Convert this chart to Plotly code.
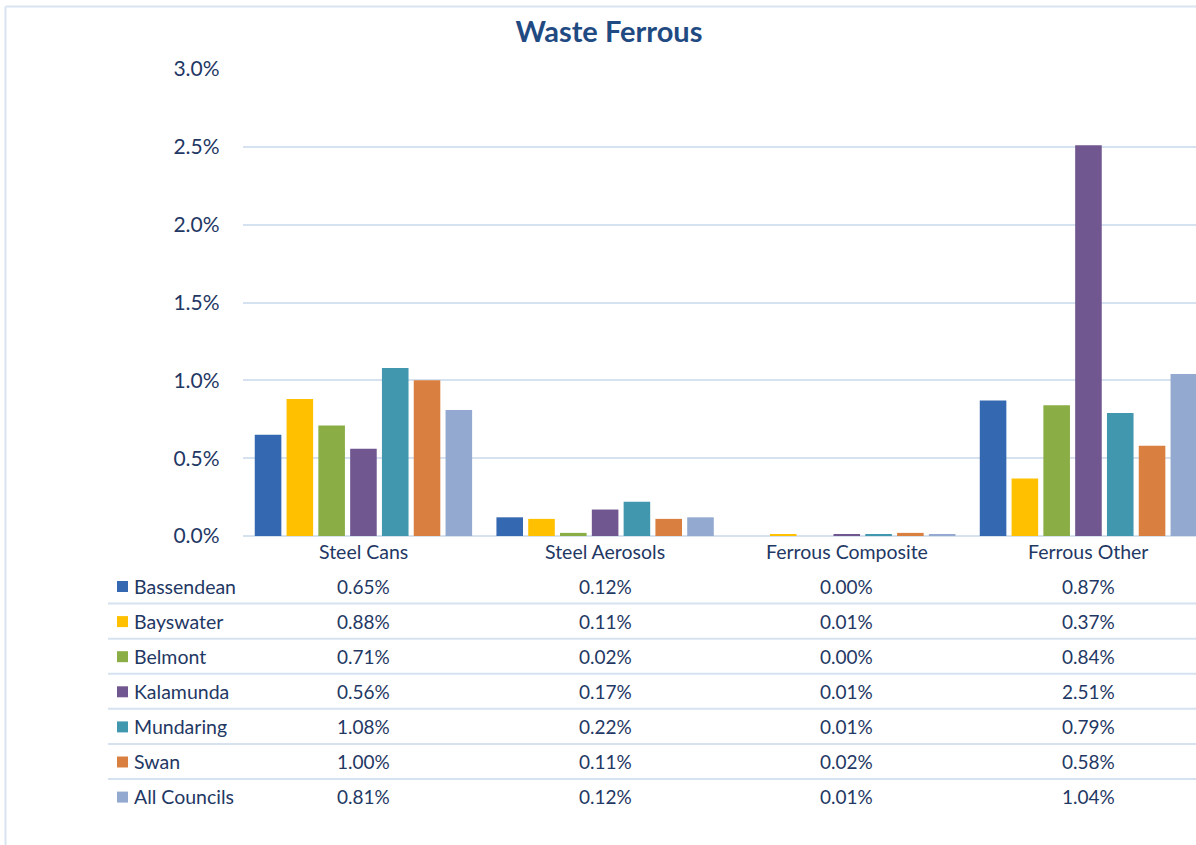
import plotly.graph_objects as go

categories = ["Steel Cans", "Steel Aerosols", "Ferrous Composite", "Ferrous Other"]
councils = ["Bassendean", "Bayswater", "Belmont", "Kalamunda", "Mundaring", "Swan", "All Councils"]
bassendean = [0.65, 0.12, 0.00, 0.87]
bayswater = [0.88, 0.11, 0.01, 0.37]
belmont = [0.71, 0.02, 0.00, 0.84]
kalamunda = [0.56, 0.17, 0.01, 2.51]
mundaring = [1.08, 0.22, 0.01, 0.79]
swan = [1.00, 0.11, 0.02, 0.58]
all_councils = [0.81, 0.12, 0.01, 1.04]
series = [bassendean, bayswater, belmont, kalamunda, mundaring, swan, all_councils]
colors = ["#3468b0", "#ffc000", "#8aae45", "#70578f", "#4097ae", "#d98040", "#93a9cf"]
y_ticks = [0.0, 0.5, 1.0, 1.5, 2.0, 2.5, 3.0]

W, H = 1196, 845
TEXT = "#1f3864"
GRID = "#d6e2f0"
FONT = "Lato"

fig = go.Figure()
for name, vals, col in zip(councils, series, colors):
    fig.add_trace(go.Bar(x=list(range(len(categories))), y=vals, name=name,
                         marker=dict(color=col, line=dict(width=0)),
                         showlegend=False, hoverinfo="y+name"))

def px_x(p):
    return p / W

def px_y(p):
    return 1 - p / H

x0_plot = 242.6
y_zero, y_top = 536, 69
fig.update_layout(
    template="none",
    width=W, height=H,
    margin=dict(l=0, r=0, t=0, b=0, pad=0, autoexpand=False),
    paper_bgcolor="white", plot_bgcolor="white",
    barmode="group", bargap=0.079, bargroupgap=0.164,
    font=dict(family=FONT, color=TEXT),
    title=dict(text="<b>Waste Ferrous</b>", x=609 / W, xanchor="center",
               y=px_y(32), yanchor="middle", automargin=False,
               font=dict(family=FONT, size=29, color="#1f4a82")),
    xaxis=dict(domain=[px_x(x0_plot), 1], range=[-0.5, 3.445], automargin=False,
               showticklabels=False, ticks="", showgrid=False, zeroline=False,
               showline=False, fixedrange=True),
    yaxis=dict(domain=[px_y(y_zero), px_y(y_top)], range=[0, 3.0], automargin=False,
               tickvals=y_ticks, ticktext=[f"{v:.1f}%" for v in y_ticks],
               tickfont=dict(family=FONT, size=21, color=TEXT),
               showgrid=True, gridcolor=GRID, gridwidth=1.5,
               zeroline=True, zerolinecolor=GRID, zerolinewidth=2,
               ticks="", ticklabelstandoff=22, showline=False, fixedrange=True),
)

shapes = []
annotations = []
# chart frame
shapes.append(dict(type="line", xref="paper", yref="paper", x0=px_x(5.5), x1=px_x(5.5),
                   y0=px_y(6.5), y1=0, line=dict(color="#d9e4f2", width=2)))
shapes.append(dict(type="line", xref="paper", yref="paper", x0=px_x(5.5), x1=1,
                   y0=px_y(6.5), y1=px_y(6.5), line=dict(color="#d9e4f2", width=2)))

# category labels
for i, c in enumerate(categories):
    annotations.append(dict(x=i, y=px_y(551), xref="x", yref="paper", text=c,
                            showarrow=False, xanchor="center", yanchor="middle",
                            font=dict(family=FONT, size=19.5, color=TEXT)))

row0, row_h = 586, 35.1
for r, (name, vals, col) in enumerate(zip(councils, series, colors)):
    yc = row0 + r * row_h
    shapes.append(dict(type="rect", xref="paper", yref="paper",
                       x0=px_x(117), x1=px_x(128), y0=px_y(yc - 5), y1=px_y(yc + 6),
                       fillcolor=col, line=dict(width=0)))
    annotations.append(dict(x=px_x(132), y=px_y(yc), xref="paper", yref="paper",
                            text=name, showarrow=False, xanchor="left", yanchor="middle",
                            font=dict(family=FONT, size=19.5, color=TEXT)))
    for i, v in enumerate(vals):
        annotations.append(dict(x=i, y=px_y(yc), xref="x", yref="paper",
                                text=f"{v:.2f}%", showarrow=False, xanchor="center",
                                yanchor="middle", font=dict(family=FONT, size=19, color=TEXT)))
    if r < len(councils) - 1:
        ly = yc + row_h / 2
        shapes.append(dict(type="line", xref="paper", yref="paper", x0=px_x(108), x1=1,
                           y0=px_y(ly), y1=px_y(ly), line=dict(color=GRID, width=2)))

fig.update_layout(shapes=shapes, annotations=annotations)
fig.write_html("out.html",
               config={"displayModeBar": False},
               post_script="document.body.style.margin='0';document.body.style.overflow='hidden';")
